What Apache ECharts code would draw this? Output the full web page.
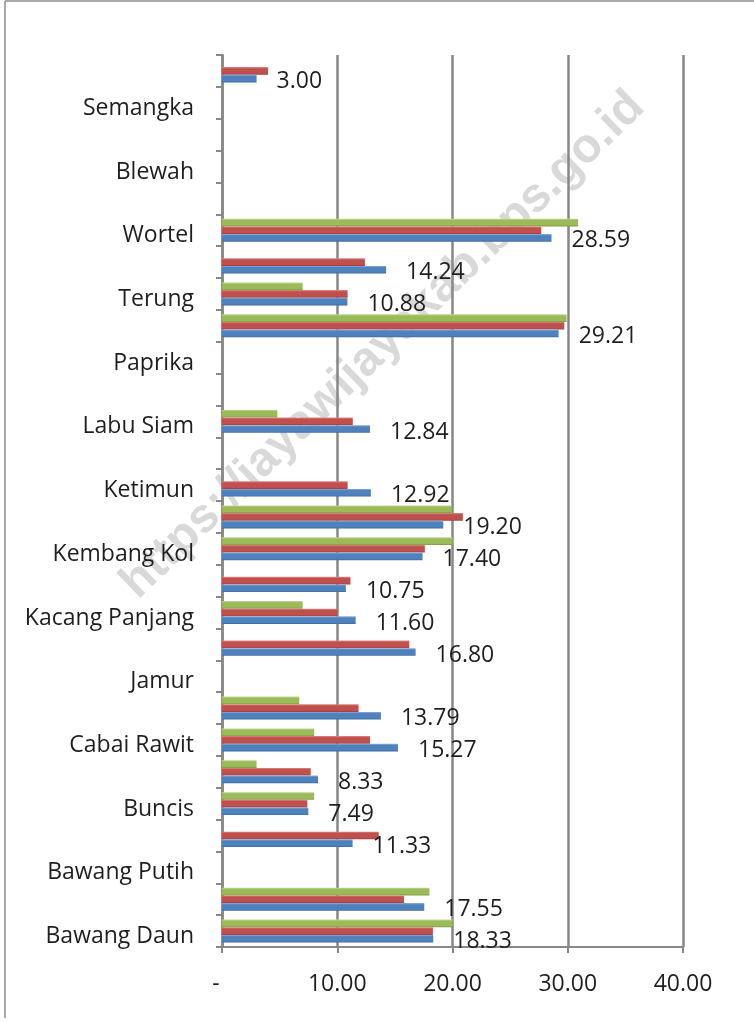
<!DOCTYPE html>
<html>
<head>
<meta charset="utf-8">
<script src="https://cdn.jsdelivr.net/npm/echarts@6/dist/echarts.min.js"></script>
<style>
  html, body { margin: 0; padding: 0; background: #fff; }
  #chart { width: 754px; height: 1022px; }
</style>
</head>
<body>
<div id="chart"></div>
<script>
  // kategori dari bawah ke atas (label hanya tampil tiap dua baris, seperti di Excel)
  var categories = [
    'Bawang Daun', 'Bawang Merah', 'Bawang Putih', 'Bayam', 'Buncis', 'Cabai Besar',
    'Cabai Rawit', 'Jagung Manis', 'Jamur', 'Kacang Merah', 'Kacang Panjang', 'Kangkung',
    'Kembang Kol', 'Kentang', 'Ketimun', 'Kubis', 'Labu Siam', 'Lobak', 'Paprika',
    'Petsai/Sawi', 'Terung', 'Tomat', 'Wortel', 'Alpukat', 'Blewah', 'Melon',
    'Semangka', 'Stroberi'
  ];
  var seriesBlue = [18.33, 17.55, null, 11.33, 7.49, 8.33, 15.27, 13.79, null, 16.80,
    11.60, 10.75, 17.40, 19.20, 12.92, null, 12.84, null, null, 29.21, 10.88, 14.24,
    28.59, null, null, null, null, 3.00];
  var seriesRed = [18.3, 15.8, null, 13.6, 7.4, 7.7, 12.85, 11.85, null, 16.25,
    10.0, 11.15, 17.6, 20.9, 10.9, null, 11.35, null, null, 29.7, 10.9, 12.4,
    27.7, null, null, null, null, 4.0];
  var seriesGreen = [20.0, 18.0, null, null, 8.0, 3.0, 8.0, 6.7, null, null,
    7.0, null, 20.0, 19.9, null, null, 4.8, null, null, 29.9, 7.0, null,
    30.9, null, null, null, null, null];
  var seriesNames = ['Seri 1', 'Seri 2', 'Seri 3'];

  var fontFamily = '"Open Sans", sans-serif';
  var textColor = '#1f1f1f';
  var lineColor = '#878787';

  function barColor(light, base, dark) {
    return new echarts.graphic.LinearGradient(0, 0, 0, 1, [
      {offset: 0, color: light},
      {offset: 0.22, color: base},
      {offset: 0.8, color: base},
      {offset: 1, color: dark},
    ]);
  }

  var chart = echarts.init(document.getElementById('chart'));
  // urutan seri dibalik: seri pertama ECharts digambar paling atas, biru harus di bawah
  var option = {
    backgroundColor: '#fff',
    animation: false,
    grid: {left: 222, right: 71, top: 55, bottom: 75, containLabel: false},
    graphic: [
      {type: 'line', shape: {x1: 5, y1: 1, x2: 754, y2: 1}, style: {stroke: '#8c8c8c', lineWidth: 1.5}},
      {type: 'line', shape: {x1: 5, y1: 1, x2: 5, y2: 1018}, style: {stroke: '#8c8c8c', lineWidth: 1.5}},
      {
        type: 'text', z: -10, x: 383, y: 345, rotation: 44 * Math.PI / 180,
        style: {
          text: 'https://jayawijayakab.bps.go.id',
          font: 'bold 48px "Liberation Sans", sans-serif',
          fill: '#d9d9d9', align: 'center', verticalAlign: 'middle',
        },
      },
    ],
    xAxis: {
      type: 'value', min: 0, max: 40, interval: 10,
      axisLine: {show: true, lineStyle: {color: lineColor, width: 2}},
      axisTick: {show: true, length: 6, lineStyle: {color: lineColor, width: 2}},
      splitLine: {show: true, lineStyle: {color: lineColor, width: 2.5}},
      axisLabel: {
        margin: 26, color: textColor, fontFamily: fontFamily, fontSize: 23,
        formatter: function (v) { return v === 0 ? '-  ' : v.toFixed(2); },
      },
    },
    yAxis: {
      type: 'category', data: categories,
      axisLine: {show: true, lineStyle: {color: lineColor, width: 2.5}},
      axisTick: {show: true, length: 6, interval: 0, lineStyle: {color: lineColor, width: 2}},
      axisLabel: {
        interval: 1, margin: 28, color: textColor, fontFamily: fontFamily, fontSize: 23,
        formatter: function (v) { return '{c|' + v + '}'; },
        rich: {c: {color: textColor, fontFamily: fontFamily, fontSize: 23, padding: [11, 0, 0, 0]}},
      },
    },
    series: [
      {
        name: seriesNames[2], type: 'bar', data: seriesGreen,
        barGap: '0%', barCategoryGap: '28%',
        itemStyle: {color: barColor('#c2d89a', '#9bbb59', '#7d9a44')},
      },
      {
        name: seriesNames[1], type: 'bar', data: seriesRed,
        barGap: '0%', barCategoryGap: '28%',
        itemStyle: {color: barColor('#dc8a88', '#c0504d', '#9c3d3a')},
      },
      {
        name: seriesNames[0], type: 'bar', data: seriesBlue,
        barGap: '0%', barCategoryGap: '28%',
        itemStyle: {color: barColor('#8fb0dc', '#4f81bd', '#3d6a9f')},
        label: {
          show: true, position: 'right', distance: 20, offset: [0, 3],
          color: textColor, fontFamily: fontFamily, fontSize: 23,
          formatter: function (p) { return p.value.toFixed(2); },
        },
      },
    ],
  };
  chart.setOption(option);
</script>
</body>
</html>
